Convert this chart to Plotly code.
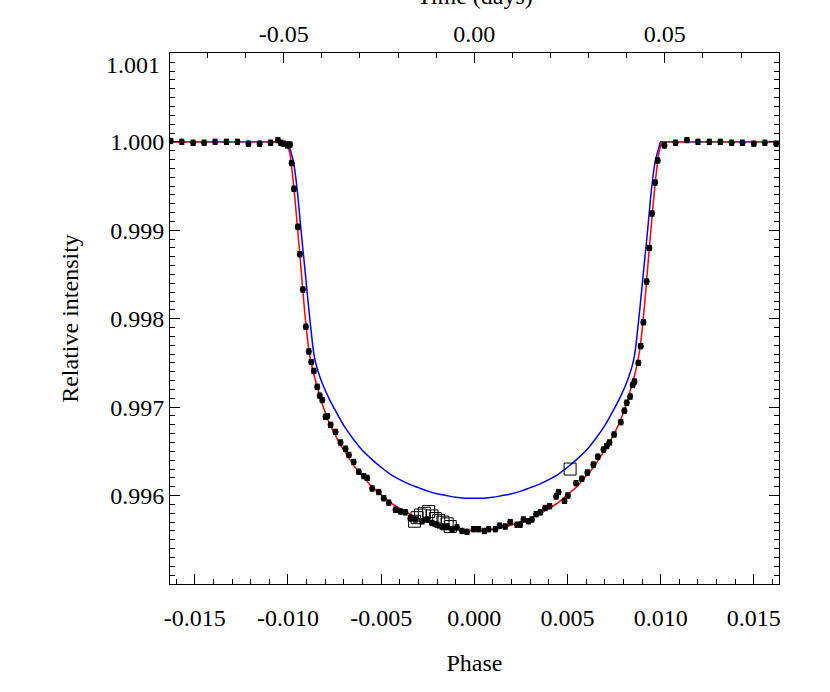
import plotly.graph_objects as go

# Observed light curve (phase, relative intensity)
phase = [
    -0.01629, -0.01570, -0.01509, -0.01450, -0.01391, -0.01330, -0.01271, -0.01212,
    -0.01152, -0.01093, -0.01054, -0.01039, -0.01025, -0.01003, -0.00989,
    -0.00980, -0.00968, -0.00947, -0.00936, -0.00920, -0.00904, -0.00888, -0.00875,
    -0.00861, -0.00843, -0.00829, -0.00816, -0.00798, -0.00789, -0.00771, -0.00745,
    -0.00718, -0.00691, -0.00673, -0.00647, -0.00620, -0.00593, -0.00575, -0.00548,
    -0.00513, -0.00486, -0.00459, -0.00423, -0.00396, -0.00370, -0.00343, -0.00316,
    -0.00280, -0.00253, -0.00227, -0.00200, -0.00173, -0.00146, -0.00119, -0.00093,
    -0.00066, -0.00039, -0.00004,
    0.00023, 0.00054, 0.00077, 0.00113, 0.00136, 0.00166, 0.00193, 0.00229, 0.00246,
    0.00264, 0.00291, 0.00309, 0.00332, 0.00354, 0.00380, 0.00404, 0.00439, 0.00452,
    0.00484, 0.00502, 0.00546, 0.00577, 0.00607, 0.00639, 0.00663, 0.00693, 0.00711,
    0.00725, 0.00750, 0.00786, 0.00805, 0.00818, 0.00836, 0.00850, 0.00859, 0.00880,
    0.00893, 0.00907, 0.00925, 0.00939, 0.00954, 0.00970, 0.00984,
    0.01020, 0.01080, 0.01141, 0.01200, 0.01261, 0.01320, 0.01381, 0.01439, 0.01500,
    0.01559, 0.01620,
]
flux = [
    1.00001, 1.00000, 0.99999, 0.99999, 1.00000, 1.00000, 1.00000, 0.99998,
    0.99998, 0.99999, 1.00002, 0.99999, 0.99998, 0.99996, 0.99997,
    0.99976, 0.99947, 0.99904, 0.99873, 0.99833, 0.99791, 0.99763, 0.99751,
    0.99741, 0.99723, 0.99713, 0.99708, 0.99689, 0.99690, 0.99680, 0.99672,
    0.99660, 0.99653, 0.99646, 0.99638, 0.99627, 0.99622, 0.99620, 0.99608,
    0.99604, 0.99597, 0.99592, 0.99584, 0.99582, 0.99581, 0.99574, 0.99573,
    0.99571, 0.99573, 0.99569, 0.99567, 0.99565, 0.99565, 0.99562, 0.99564,
    0.99560, 0.99559, 0.99562,
    0.99562, 0.99560, 0.99562, 0.99562, 0.99566, 0.99565, 0.99570, 0.99567, 0.99567,
    0.99573, 0.99571, 0.99573, 0.99579, 0.99581, 0.99586, 0.99588, 0.99599, 0.99604,
    0.99594, 0.99600, 0.99614, 0.99619, 0.99626, 0.99635, 0.99644, 0.99652, 0.99656,
    0.99660, 0.99669, 0.99683, 0.99696, 0.99705, 0.99712, 0.99725, 0.99729, 0.99750,
    0.99769, 0.99796, 0.99842, 0.99880, 0.99919, 0.99954, 0.99979,
    0.99996, 0.99999, 1.00002, 1.00000, 1.00000, 1.00000, 0.99999, 0.99999, 0.99998,
    0.99999, 0.99998,
]
flux_err = [0.00003] * len(flux)

# Open squares
sq_phase = [-0.00321, -0.00307, -0.00289, -0.00268, -0.00245, -0.00227, -0.00209,
            -0.00191, -0.00168, -0.00146, -0.00129, 0.00514]
sq_flux = [0.99571, 0.99575, 0.99578, 0.99580, 0.99582, 0.99577, 0.99574,
           0.99572, 0.99570, 0.99568, 0.99565, 0.99630]

# Fitted model (red)
red_phase = [-0.0165, -0.0103, -0.0101, -0.0099, -0.0097, -0.0095, -0.0093, -0.0091,
             -0.0089, -0.0088, -0.0087, -0.0086, -0.0084, -0.0082, -0.0080, -0.0078,
             -0.0075, -0.0072, -0.0068, -0.0064, -0.0059, -0.0055, -0.0050, -0.0045,
             -0.0039, -0.0033, -0.0026, -0.0013, 0.0,
             0.0013, 0.0026, 0.0033, 0.0039, 0.0045, 0.0050, 0.0055, 0.0059, 0.0064,
             0.0068, 0.0072, 0.0075, 0.0078, 0.0080, 0.0082, 0.0084, 0.0086, 0.0087,
             0.0088, 0.0089, 0.0091, 0.0093, 0.0095, 0.0097, 0.0099, 0.0101, 0.0103,
             0.0165]
red_flux = [1.0, 1.0, 1.0, 0.99987, 0.99952, 0.99906, 0.99857, 0.99807,
            0.99768, 0.99755, 0.99745, 0.99736, 0.99721, 0.99706, 0.99694, 0.99683,
            0.99670, 0.99658, 0.99645, 0.99632, 0.99620, 0.99610, 0.99601, 0.99592,
            0.99584, 0.99577, 0.99571, 0.99563, 0.99560,
            0.99563, 0.99571, 0.99577, 0.99584, 0.99592, 0.99601, 0.99610, 0.99620,
            0.99632, 0.99645, 0.99658, 0.99670, 0.99683, 0.99694, 0.99706, 0.99721,
            0.99736, 0.99745, 0.99755, 0.99768, 0.99807, 0.99857, 0.99906, 0.99952,
            0.99987, 1.0, 1.0, 1.0]

# Comparison model (blue)
blue_phase = [-0.0165, -0.0102, -0.0100, -0.0099, -0.0097, -0.0095, -0.0093, -0.0091,
              -0.0089, -0.0087, -0.0086, -0.0085, -0.0083, -0.0081, -0.0078, -0.0074,
              -0.0070, -0.0065, -0.0060, -0.0055, -0.0050, -0.0045, -0.0040, -0.0035,
              -0.0030, -0.0025, -0.0020, -0.0015, -0.0010, -0.0005, 0.0,
              0.0005, 0.0010, 0.0015, 0.0020, 0.0025, 0.0030, 0.0035, 0.0040, 0.0045,
              0.0050, 0.0055, 0.0060, 0.0065, 0.0070, 0.0074, 0.0078, 0.0081, 0.0083,
              0.0085, 0.0086, 0.0087, 0.0089, 0.0091, 0.0093, 0.0095, 0.0097, 0.0099,
              0.0100, 0.0102, 0.0165]
blue_flux = [1.0, 1.0, 1.0, 0.99993, 0.99977, 0.99945, 0.99900, 0.99858,
             0.99815, 0.99775, 0.99759, 0.99749, 0.99735, 0.99724, 0.99710, 0.99694,
             0.99679, 0.99664, 0.99651, 0.99641, 0.99632, 0.99624, 0.99618, 0.99613,
             0.99609, 0.99605, 0.99602, 0.99600, 0.99598, 0.99597, 0.99597,
             0.99597, 0.99598, 0.99600, 0.99602, 0.99605, 0.99609, 0.99613, 0.99618,
             0.99624, 0.99632, 0.99641, 0.99651, 0.99664, 0.99679, 0.99694, 0.99710,
             0.99724, 0.99735, 0.99749, 0.99759, 0.99775, 0.99815, 0.99858, 0.99900,
             0.99945, 0.99977, 0.99993, 1.0, 1.0, 1.0]

x_ticks = [-0.015, -0.010, -0.005, 0.0, 0.005, 0.010, 0.015]
y_ticks = [0.996, 0.997, 0.998, 0.999, 1.000, 1.001]
time_ticks = [-0.05, 0.0, 0.05]

period = 4.89  # days per unit phase
x_range = [-0.01633, 0.01635]

FONT = "Liberation Serif"

fig = go.Figure()

fig.add_trace(go.Scatter(x=blue_phase, y=blue_flux, mode='lines',
                         line=dict(color='#0000ff', width=1.5, shape='spline',
                                   smoothing=0.8),
                         showlegend=False))
fig.add_trace(go.Scatter(x=red_phase, y=red_flux, mode='lines',
                         line=dict(color='#ff0000', width=1.5, shape='spline',
                                   smoothing=0.6),
                         showlegend=False))
fig.add_trace(go.Scatter(x=phase, y=flux, mode='markers',
                         marker=dict(color='black', size=6),
                         error_y=dict(type='data', array=flux_err, color='black',
                                      thickness=1, width=2.5),
                         showlegend=False))
fig.add_trace(go.Scatter(x=sq_phase, y=sq_flux, mode='markers',
                         marker=dict(symbol='square-open', color='black', size=12,
                                     line=dict(width=1)),
                         showlegend=False))
# same light curve on the time axis (invisible) so the top axis gets drawn
fig.add_trace(go.Scatter(x=[p * period for p in phase], y=flux, xaxis='x2',
                         mode='markers', marker=dict(opacity=0), hoverinfo='skip',
                         showlegend=False))

axis_common = dict(showgrid=False, zeroline=False, showline=True, linecolor='black',
                   linewidth=1, ticks='inside', tickcolor='black', tickwidth=1,
                   tickfont=dict(family=FONT, size=24, color='black'))

# top label sits a little lower than its tick in the original, so it is placed by hand
y_text = [f"{v:.3f}" for v in y_ticks]
y_text[-1] = ""

fig.update_layout(
    width=830, height=692,
    margin=dict(l=170, r=51, t=53, b=108),
    paper_bgcolor='white', plot_bgcolor='white',
    font=dict(family=FONT, size=24, color='black'),
    xaxis=dict(range=x_range, tickvals=x_ticks, ticktext=[f"{v:.3f}" for v in x_ticks],
               ticklen=10, ticklabelstandoff=12,
               minor=dict(ticks='inside', ticklen=5, dtick=0.001, tick0=0,
                          tickcolor='black'),
               title=dict(text='Phase', font=dict(family=FONT, size=24), standoff=24),
               **axis_common),
    xaxis2=dict(range=[x_range[0] * period, x_range[1] * period], overlaying='x',
                side='top', tickvals=time_ticks,
                ticktext=[f"{v:.2f}" for v in time_ticks], ticklen=10,
                minor=dict(ticks='inside', ticklen=5, dtick=0.01, tick0=0,
                           tickcolor='black'),
                **axis_common),
    yaxis=dict(range=[0.995, 1.001005], tickvals=y_ticks, ticktext=y_text,
               ticklen=10, mirror='ticks',
               minor=dict(ticks='inside', ticklen=5, dtick=0.0001, tick0=0.995,
                          tickcolor='black'),
               title=dict(text='Relative intensity', font=dict(family=FONT, size=24),
                          standoff=24),
               **axis_common),
)

fig.add_annotation(text=f"{y_ticks[-1]:.3f}", xref='paper', yref='y', x=0,
                   y=y_ticks[-1], xanchor='right', yanchor='middle', xshift=-8,
                   yshift=-12, showarrow=False,
                   font=dict(family=FONT, size=24, color='black'))

fig.add_annotation(text='Time (days)', xref='paper', yref='paper', x=0.5, y=1,
                   yanchor='bottom', yshift=42, showarrow=False,
                   font=dict(family=FONT, size=24, color='black'))

fig.write_html("out.html", config={'displayModeBar': False},
               post_script="document.body.style.margin='0';")
